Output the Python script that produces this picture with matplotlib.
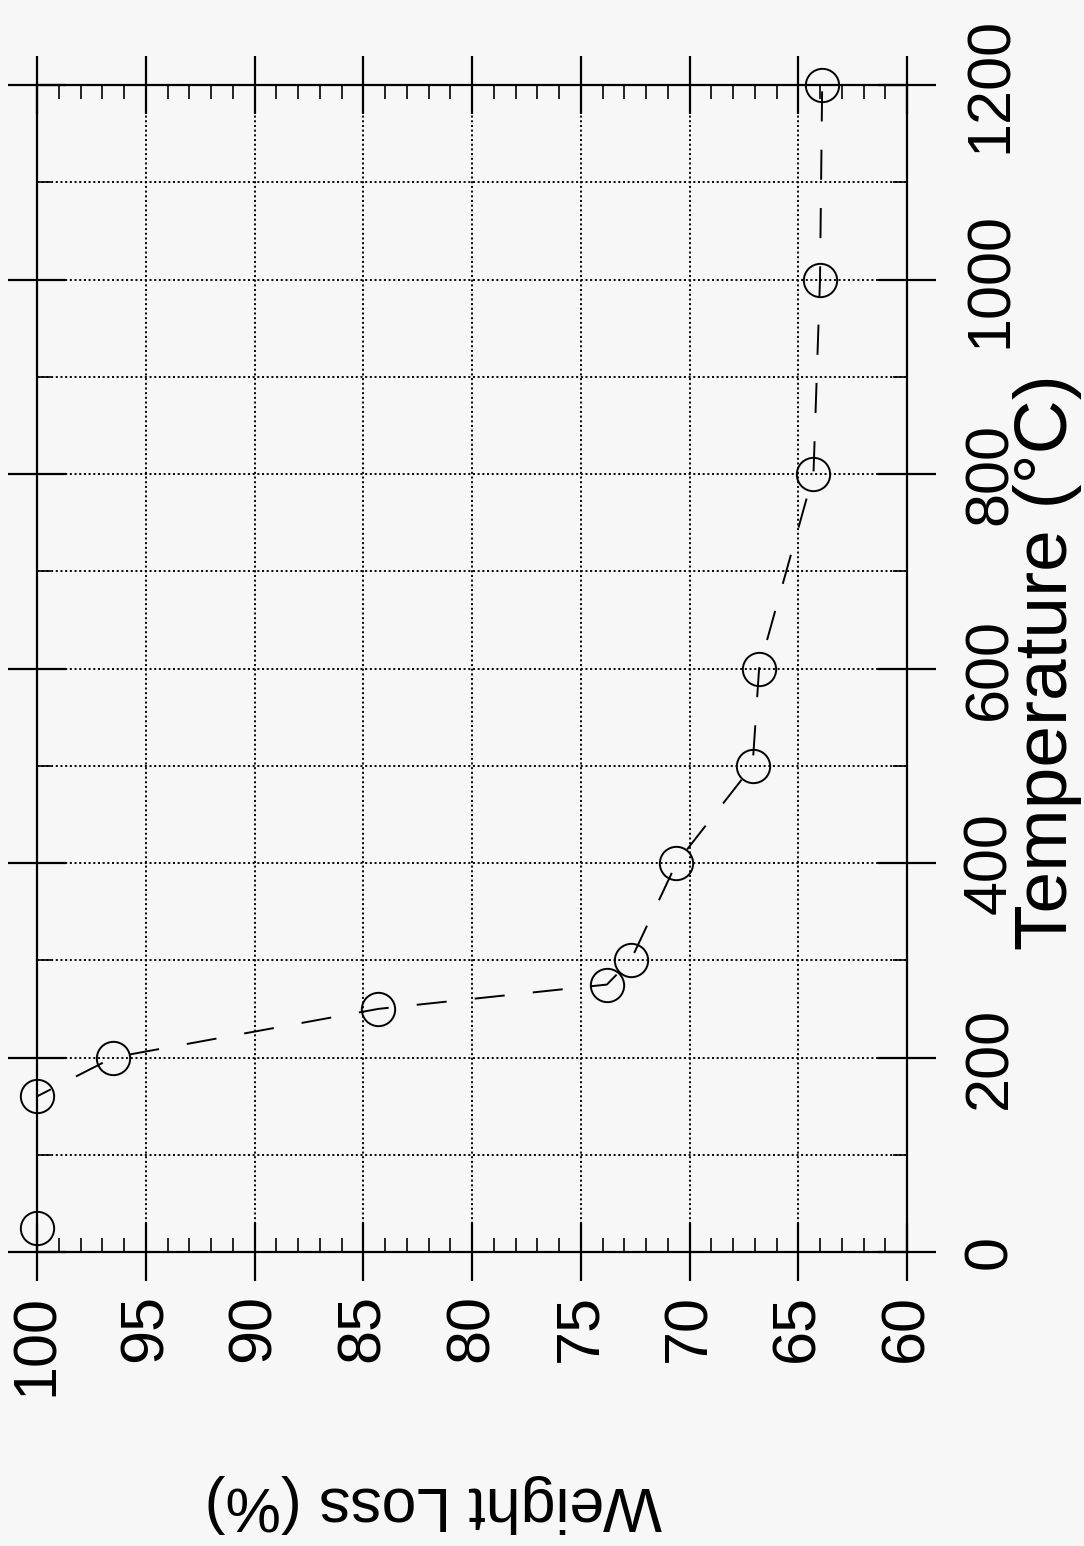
import matplotlib
matplotlib.use("Agg")
import matplotlib.pyplot as plt
from matplotlib.ticker import MultipleLocator, FixedLocator

# ---- data ----
weight_loss = [100.0, 100.0, 96.5, 84.3, 73.8, 72.7, 70.6, 67.1, 66.8, 64.3, 64.0, 63.9]
temperature = [25, 160, 200, 250, 275, 300, 400, 500, 600, 800, 1000, 1200]
weight_ticks = [100, 95, 90, 85, 80, 75, 70, 65, 60]
temp_ticks = [0, 200, 400, 600, 800, 1000, 1200]
temp_minor = [100, 300, 500, 700, 900, 1100]

plt.rcParams['font.family'] = ['Liberation Sans', 'DejaVu Sans']
bg = '#f7f7f7'

fig = plt.figure(figsize=(10.84, 15.46), dpi=100, facecolor=bg)
W, H = 1084, 1546
L, R, T, B = 37, 907, 85, 1252
ax = fig.add_axes([L / W, 1 - B / H, (R - L) / W, (B - T) / H], facecolor=bg)

ax.set_xlim(100, 60)
ax.set_ylim(0, 1200)

# grid
ax.xaxis.set_major_locator(FixedLocator(weight_ticks))
ax.xaxis.set_minor_locator(MultipleLocator(1))
ax.yaxis.set_major_locator(FixedLocator(temp_ticks))
ax.yaxis.set_minor_locator(FixedLocator(temp_minor))
grid_style = dict(color='black', lw=1.35, linestyle=(0, (1.1, 1.4)))
ax.grid(True, which='major', axis='x', **grid_style)
ax.grid(True, which='both', axis='y', **grid_style)
ax.set_axisbelow(True)

# data
ax.plot(weight_loss, temperature, color='black', lw=1.4, linestyle=(0, (15.5, 14.5)),
        marker='o', ms=24, mfc='none', mec='black', mew=1.4, clip_on=False, zorder=3)

for s in ax.spines.values():
    s.set_linewidth(1.6)
    s.set_color('black')

ax.tick_params(which='major', direction='inout', length=42, width=1.6,
               top=True, bottom=True, left=True, right=True,
               labelleft=False, labelright=True, labeltop=False, labelbottom=True,
               labelsize=44)
ax.tick_params(which='minor', direction='in', length=10, width=1.2,
               top=True, bottom=True, left=True, right=True)
ax.tick_params(axis='x', which='major', pad=9)
ax.tick_params(axis='y', which='major', pad=19)

ax.set_xticklabels([str(v) for v in weight_ticks])
ax.set_yticklabels([str(v) for v in temp_ticks])
for lbl in ax.get_xticklabels():
    lbl.set_rotation(90)
    lbl.set_va('top')
    lbl.set_ha('center')
for lbl in ax.get_yticklabels():
    lbl.set_rotation(90)
    lbl.set_va('center')
    lbl.set_ha('left')

ax.set_xlabel('Weight Loss (%)', fontsize=45, rotation=180, ha='center', va='center')
ax.xaxis.set_label_coords((433 - L) / (R - L), (B - 1503) / (B - T))
ax.yaxis.set_label_position('right')
ax.set_ylabel('Temperature (°C)', fontsize=54, rotation=90, ha='center', va='center')
ax.yaxis.set_label_coords((1048 - L) / (R - L), (B - 662) / (B - T))

fig.savefig('out.png', dpi=100, facecolor=bg)
